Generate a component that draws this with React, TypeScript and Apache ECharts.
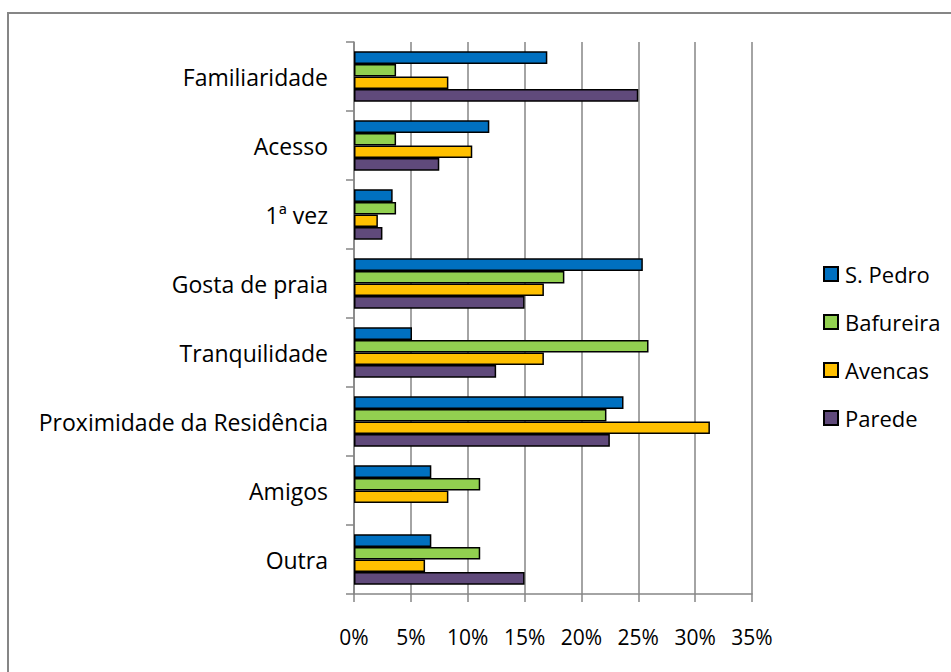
import React, { useEffect, useRef } from "react";
import * as echarts from "echarts";

const categories = [
  "Familiaridade",
  "Acesso",
  "1ª vez",
  "Gosta de praia",
  "Tranquilidade",
  "Proximidade da Residência",
  "Amigos",
  "Outra",
];
const seriesNames = ["S. Pedro", "Bafureira", "Avencas", "Parede"];
const sPedro = [17.0, 11.9, 3.4, 25.4, 5.1, 23.7, 6.8, 6.8];
const bafureira = [3.7, 3.7, 3.7, 18.5, 25.9, 22.2, 11.1, 11.1];
const avencas = [8.3, 10.4, 2.1, 16.7, 16.7, 31.3, 8.3, 6.25];
const parede = [25.0, 7.5, 2.5, 15.0, 12.5, 22.5, 0, 15.0];
const colors = ["#0070C0", "#92D050", "#FFC000", "#604A7B"];
const xMin = 0;
const xMax = 35;
const xStep = 5;

const FONT = "'Open Sans', 'Noto Sans', sans-serif";

export default function App() {
  const ref = useRef<HTMLDivElement>(null);
  useEffect(() => {
    if (!ref.current) return;
    const chart = echarts.init(ref.current, null, { renderer: "svg" });
    const data = [sPedro, bafureira, avencas, parede];
    chart.setOption({
      animation: false,
      backgroundColor: "#ffffff",
      textStyle: { fontFamily: FONT, color: "#000" },
      graphic: [
        {
          type: "rect",
          shape: { x: 8, y: 13, width: 1000, height: 1000 },
          style: { fill: "none", stroke: "#868686", lineWidth: 2 },
          silent: true,
        },
      ],
      legend: {
        orient: "vertical",
        left: 818,
        top: 258,
        itemWidth: 14,
        itemHeight: 14,
        itemGap: 26,
        icon: "rect",
        data: seriesNames,
        textStyle: { fontFamily: FONT, fontSize: 22, color: "#000", padding: [0, 0, 0, 2] },
      },
      grid: { left: 354, right: 199, top: 42, bottom: 78, containLabel: false },
      xAxis: {
        type: "value",
        min: xMin,
        max: xMax,
        interval: xStep,
        axisLine: { show: true, lineStyle: { color: "#868686", width: 1.5 } },
        axisTick: { show: true, length: 8, lineStyle: { color: "#868686", width: 1.5 } },
        splitLine: { show: true, lineStyle: { color: "#868686", width: 1.5 } },
        axisLabel: {
          formatter: "{value}%",
          fontFamily: FONT,
          fontSize: 21,
          color: "#000",
          margin: 32,
        },
      },
      yAxis: {
        type: "category",
        inverse: true,
        data: categories,
        axisLine: { show: true, lineStyle: { color: "#868686", width: 1.5 } },
        axisTick: { show: true, length: 8, lineStyle: { color: "#868686", width: 1.5 } },
        axisLabel: { fontFamily: FONT, fontSize: 23, color: "#000", margin: 26 },
      },
      series: seriesNames.map((name, i) => ({
        name,
        type: "bar",
        data: data[i].map((v) =>
          v === 0 ? { value: v, itemStyle: { borderWidth: 0 } } : v
        ),
        barGap: "0%",
        barCategoryGap: "27%",
        itemStyle: { color: colors[i], borderColor: "#000", borderWidth: 1.5 },
      })),
    });
    return () => chart.dispose();
  }, []);
  return (
    <div
      ref={ref}
      style={{ position: "fixed", left: 0, top: 0, width: 951, height: 672 }}
    />
  );
}
